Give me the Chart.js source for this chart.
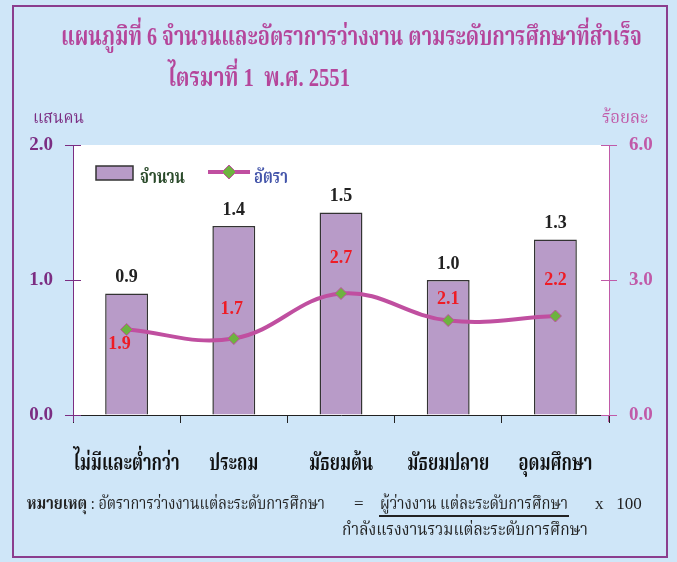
<!DOCTYPE html>
<html>
<head>
<meta charset="utf-8">
<script src="https://cdn.jsdelivr.net/npm/chart.js@4.4.1/dist/chart.umd.min.js"></script>
<style>
  html, body { margin: 0; padding: 0; }
  body { width: 677px; height: 562px; background: #cfe6f8; position: relative; overflow: hidden;
         font-family: "Liberation Serif", "Norasi", "Noto Serif Thai", "Laksaman", "DejaVu Serif", serif; }
  #frame { position: absolute; left: 12px; top: 5px; width: 652px; height: 549px; border: 2px solid #8b3d8e; }
  #wrap { position: absolute; left: 0; top: 0; width: 677px; height: 562px; }
  .txt { position: absolute; white-space: nowrap; line-height: 1; transform-origin: 0 0; }
  .title { color: #b5469b; font-weight: bold; font-size: 26px; }
  .unit { font-size: 17px; }
  .note { font-size: 17px; color: #222; }
</style>
</head>
<body>
<div id="frame"></div>
<div id="wrap"><canvas id="chart_1" width="677" height="562"></canvas></div>

<div class="txt title" data-w="581" style="left:61px; top:24px;">แผนภูมิที่ 6 จำนวนและอัตราการว่างงาน ตามระดับการศึกษาที่สำเร็จ</div>
<div class="txt title" data-w="182" style="left:168px; top:65px;">ไตรมาที่ 1&nbsp; พ.ศ. 2551</div>
<div class="txt unit" data-w="51" style="left:33px; top:109px; color:#7b2d82;">แสนคน</div>
<div class="txt unit" data-w="46" style="left:602px; top:109px; color:#c05aa8;">ร้อยละ</div>

<div class="txt note" data-w="298" style="left:27px; top:495px;"><b>หมายเหตุ</b> : อัตราการว่างงานแต่ละระดับการศึกษา</div>
<div class="txt note" style="left:354px; top:495px;">=</div>
<div class="txt note" data-w="188" style="left:380px; top:495px;">ผู้ว่างงาน แต่ละระดับการศึกษา</div>
<div style="position:absolute; left:379px; top:515px; width:190px; height:2px; background:#222;"></div>
<div class="txt note" style="left:595px; top:495px;">x&nbsp;&nbsp; 100</div>
<div class="txt note" data-w="246" style="left:342px; top:521px;">กำลังแรงงานรวมแต่ละระดับการศึกษา</div>

<script>
// squeeze the html text to the widths of the original (its Thai font is narrow)
document.querySelectorAll('[data-w]').forEach(el => {
    const w = el.getBoundingClientRect().width;
    el.style.transform = 'scaleX(' + (Number(el.dataset.w) / w) + ')';
});

const ctxChart = document.getElementById("chart_1");

const categories = ['ไม่มีและต่ำกว่า', 'ประถม', 'มัธยมต้น', 'มัธยมปลาย', 'อุดมศึกษา'];
const amountValues = [0.9, 1.4, 1.5, 1.0, 1.3];   // แสนคน
const rateValues = [1.9, 1.7, 2.7, 2.1, 2.2];     // ร้อยละ
const leftTicks = [0, 1, 2];
const rightTicks = [0, 3, 6];

// label placement for the rate values (pixels above the point, negative = below)
const rateLabelShift = [-15, 29, 35, 21, 36];
const rateLabelDx = [-7, -2, 0, 0, 0];

const serif = '"Liberation Serif", "Norasi", "Noto Serif Thai", "Laksaman", "DejaVu Serif", serif';

function squeezeText(c, text, x, y, width, align) {
    const natural = c.measureText(text).width;
    const k = width / natural;
    c.save();
    c.translate(x, y);
    c.scale(k, 1);
    c.textAlign = align;
    c.fillText(text, 0, 0);
    c.restore();
}

const plotBg = {
    id: 'plotBg',
    beforeDraw(chart) {
        const a = chart.chartArea;
        const c = chart.ctx;
        c.save();
        c.fillStyle = '#ffffff';
        c.fillRect(a.left, a.top, a.right - a.left, a.bottom - a.top);
        c.restore();
    }
};

// category names under the axis, condensed like the original
const categoryLabels = {
    id: 'categoryLabels',
    afterDraw(chart) {
        const c = chart.ctx;
        const xs = chart.scales.x;
        c.save();
        c.font = 'bold 23px ' + serif;
        c.fillStyle = '#111111';
        c.textBaseline = 'alphabetic';
        const k = 106 / c.measureText(categories[0]).width;
        categories.forEach((name, i) => {
            const w = c.measureText(name).width * k;
            squeezeText(c, name, xs.getPixelForTick(i), 470, w, 'center');
        });
        c.restore();
    }
};

// short marks crossing the value axes
const crossTicks = {
    id: 'crossTicks',
    afterDraw(chart) {
        const c = chart.ctx;
        c.save();
        c.lineWidth = 1;
        [['yAmount', 1], ['yRate', -1]].forEach(([id, dir]) => {
            const s = chart.scales[id];
            const x0 = dir > 0 ? s.right : s.left;
            c.strokeStyle = s.options.border.color;
            s.ticks.forEach(t => {
                const y = Math.round(s.getPixelForValue(t.value)) + 0.5;
                c.beginPath();
                c.moveTo(x0, y);
                c.lineTo(x0 + dir * 8, y);
                c.stroke();
            });
            c.beginPath();
            c.moveTo(x0 + 0.5 * dir, chart.chartArea.bottom);
            c.lineTo(x0 + 0.5 * dir, chart.chartArea.bottom + 7);
            c.stroke();
        });
        c.restore();
    }
};

const valueLabels = {
    id: 'valueLabels',
    afterDatasetsDraw(chart) {
        const c = chart.ctx;
        c.save();
        c.textAlign = 'center';
        c.textBaseline = 'middle';
        c.font = 'bold 18px ' + serif;
        c.fillStyle = '#222222';
        chart.getDatasetMeta(1).data.forEach((bar, i) => {
            c.fillText(amountValues[i].toFixed(1), bar.x, bar.y - 16);
        });
        c.fillStyle = '#ee1c25';
        chart.getDatasetMeta(0).data.forEach((pt, i) => {
            c.fillText(rateValues[i].toFixed(1), pt.x + rateLabelDx[i], pt.y - rateLabelShift[i]);
        });
        c.restore();
    }
};

const ownLegend = {
    id: 'ownLegend',
    afterDraw(chart) {
        const c = chart.ctx;
        c.save();
        c.fillStyle = '#b89bc8';
        c.strokeStyle = '#333333';
        c.lineWidth = 1.5;
        c.fillRect(96, 166, 37, 14);
        c.strokeRect(96, 166, 37, 14);
        c.font = 'bold 19px ' + serif;
        c.textBaseline = 'alphabetic';
        c.fillStyle = '#2a4a2a';
        squeezeText(c, 'จำนวน', 140, 183, 45, 'left');
        c.strokeStyle = '#c04fa0';
        c.lineWidth = 4;
        c.beginPath();
        c.moveTo(208, 172);
        c.lineTo(250, 172);
        c.stroke();
        c.fillStyle = '#6db33f';
        c.strokeStyle = '#c04fa0';
        c.lineWidth = 1;
        c.beginPath();
        c.moveTo(229, 165); c.lineTo(236, 172); c.lineTo(229, 179); c.lineTo(222, 172);
        c.closePath();
        c.fill(); c.stroke();
        c.fillStyle = '#4455aa';
        squeezeText(c, 'อัตรา', 254, 183, 34, 'left');
        c.restore();
    }
};

new Chart(ctxChart, {
    data: {
        labels: categories,
        datasets: [{
            type: 'line',
            label: 'อัตรา',
            data: rateValues,
            yAxisID: 'yRate',
            borderColor: '#c04fa0',
            borderWidth: 4,
            tension: 0.4,
            pointStyle: 'rectRot',
            pointRadius: 6,
            pointBackgroundColor: '#6db33f',
            pointBorderColor: '#c04fa0',
            pointBorderWidth: 1,
            order: 0
        }, {
            type: 'bar',
            label: 'จำนวน',
            data: amountValues,
            yAxisID: 'yAmount',
            backgroundColor: '#b89bc8',
            borderColor: '#333333',
            borderWidth: 1.5,
            barPercentage: 0.4,
            categoryPercentage: 1,
            order: 1
        }]
    },
    plugins: [plotBg, valueLabels, categoryLabels, crossTicks, ownLegend],
    options: {
        responsive: false,
        animation: false,
        layout: { padding: { top: 145, left: 0, right: 0, bottom: 0 } },
        plugins: {
            legend: { display: false },
            tooltip: { enabled: false }
        },
        scales: {
            x: {
                offset: true,
                afterFit: (s) => { s.height = 147; },
                border: { color: '#222222', width: 1 },
                grid: { offset: true, drawOnChartArea: false, tickLength: 8, color: '#222222' },
                ticks: { display: false, autoSkip: false, maxRotation: 0, minRotation: 0 }
            },
            yAmount: {
                position: 'left',
                min: 0, max: 2,
                afterFit: (s) => { s.width = 73; },
                afterBuildTicks: (s) => { s.ticks = leftTicks.map(v => ({ value: v })); },
                border: { color: '#7b2d82', width: 1 },
                grid: { drawOnChartArea: false, tickLength: 8, color: '#7b2d82' },
                ticks: {
                    color: '#7b2d82',
                    padding: 12,
                    font: { family: serif, size: 19, weight: 'bold' },
                    callback: (v) => Number(v).toFixed(1)
                }
            },
            yRate: {
                position: 'right',
                min: 0, max: 6,
                afterFit: (s) => { s.width = 68; },
                afterBuildTicks: (s) => { s.ticks = rightTicks.map(v => ({ value: v })); },
                border: { color: '#c05aa8', width: 1 },
                grid: { drawOnChartArea: false, tickLength: 8, color: '#c05aa8' },
                ticks: {
                    color: '#c05aa8',
                    padding: 12,
                    font: { family: serif, size: 19, weight: 'bold' },
                    callback: (v) => Number(v).toFixed(1)
                }
            }
        }
    }
});
</script>
</body>
</html>
